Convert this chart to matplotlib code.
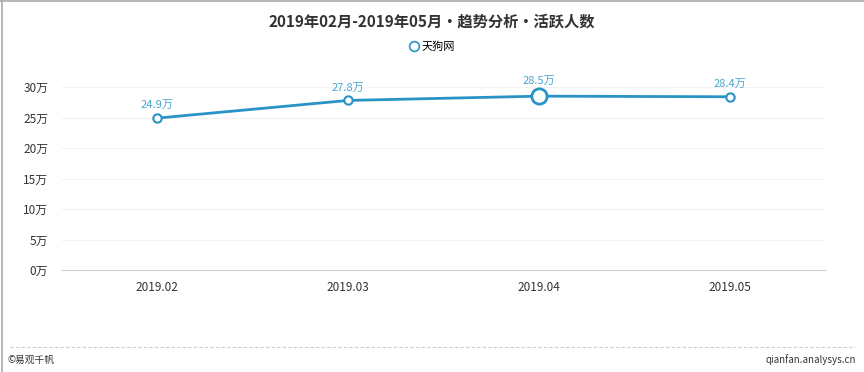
import matplotlib
matplotlib.use("Agg")
import matplotlib.pyplot as plt
from matplotlib.lines import Line2D

plt.rcParams['font.family'] = ['Noto Sans CJK SC', 'DejaVu Sans']

categories = ["2019.02", "2019.03", "2019.04", "2019.05"]
values = [24.9, 27.8, 28.5, 28.4]
yticks = [0, 5, 10, 15, 20, 25, 30]
ytick_labels = ["0万", "5万", "10万", "15万", "20万", "25万", "30万"]
series_name = "天狗网"
title = "2019年02月-2019年05月•趋势分析•活跃人数"

color = "#2a93c6"

fig = plt.figure(figsize=(8.64, 3.72), dpi=100)
ax = fig.add_axes([62/864, 1-270/372, (825-62)/864, (270-87)/372])

x = list(range(len(categories)))
ax.plot(x, values, color=color, lw=2, zorder=3)
for i, v in enumerate(values):
    big = (i == 2)
    ax.plot(i, v, marker='o', ms=11 if big else 6, mfc='white', mec=color,
            mew=2 if big else 1.5, zorder=4)
    ax.text(i, v + (1.6 if big else 1.3), f"{v}万", ha='center', va='bottom',
            fontsize=8, color="#4aa6d0")

ax.set_xlim(-0.5, 3.5)
ax.set_ylim(0, 30)
ax.set_xticks(x)
ax.set_xticklabels(categories, fontsize=8.5, color="#333333")
ax.set_yticks(yticks)
ax.set_yticklabels(ytick_labels, fontsize=8.5, color="#333333")
ax.tick_params(length=0, pad=8)
ax.tick_params(axis='y', pad=10)
for s in ['top', 'right', 'left']:
    ax.spines[s].set_visible(False)
ax.spines['bottom'].set_color("#cccccc")
ax.grid(axis='y', color="#f2f2f2", lw=0.8)
ax.set_axisbelow(True)

fig.text(0.5, 1-22/372, title, ha='center', va='center', fontsize=11,
         fontweight='bold', color="#333333")
# legend
h = Line2D([], [], marker='o', ls='none', mfc='white', mec=color, mew=1.2, ms=7)
fig.legend([h], [series_name], loc='center', bbox_to_anchor=(0.5, 1-47/372),
           frameon=False, fontsize=8, handletextpad=0.2, handlelength=1)

# footer
fig.add_artist(Line2D([10/864, 855/864], [1-347/372, 1-347/372], color="#cccccc",
                      lw=0.8, ls=(0, (3, 2))))
fig.text(8/864, 1-360/372, "©易观千帆", fontsize=7, color="#333333", va='center')
fig.text(856/864, 1-360/372, "qianfan.analysys.cn", fontsize=7, color="#333333",
         va='center', ha='right')
# border
fig.add_artist(Line2D([2/864, 2/864], [0, 1], color="#aaaaaa", lw=1.2))
fig.add_artist(Line2D([0, 1], [1-1/372, 1-1/372], color="#aaaaaa", lw=1.2))

fig.savefig("out.png", dpi=100)
